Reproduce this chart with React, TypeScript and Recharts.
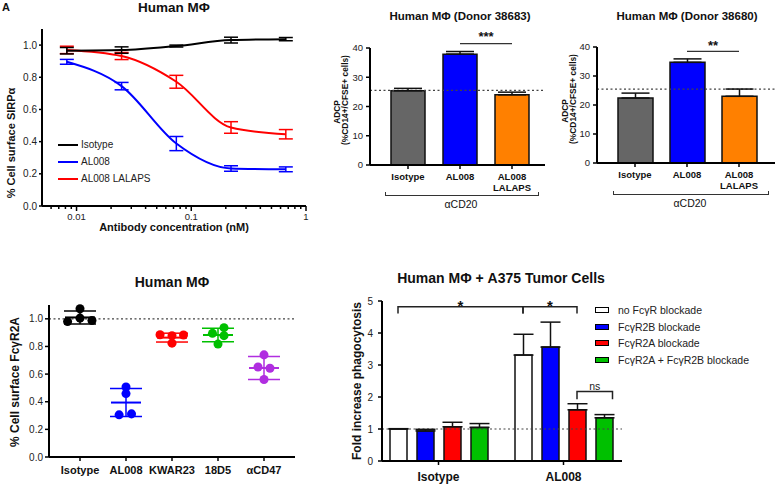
import React from "react";
import {
  LineChart, Line, XAxis, YAxis, ErrorBar, Legend, BarChart, Bar, Cell,
  ReferenceLine, ReferenceDot, ScatterChart, Scatter,
} from "recharts";

const FONT = '"Liberation Sans", Arial, Helvetica, sans-serif';
const BLUE = "#0000ff";
const RED = "#ff0000";
const GREEN = "#00c000";
const ORANGE = "#ff8000";
const GREY = "#666666";
const PURPLE = "#b02ee0";

// SIRPa surface level vs antibody dose (top left)
const concNM = [0.00823, 0.0247, 0.0741, 0.222, 0.667];
const isotypeSirpa = [0.965, 0.969, 0.994, 1.031, 1.037];
const isotypeSirpaSem = [0.02, 0.02, 0.006, 0.018, 0.01];
const al008Sirpa = [0.896, 0.745, 0.388, 0.233, 0.228];
const al008SirpaSem = [0.015, 0.023, 0.044, 0.017, 0.015];
const lalapsSirpa = [0.97, 0.932, 0.772, 0.488, 0.446];
const lalapsSirpaSem = [0.023, 0.022, 0.04, 0.036, 0.029];
const concTicks = [0.006, 0.007, 0.008, 0.009, 0.01, 0.02, 0.03, 0.04, 0.05, 0.06, 0.07, 0.08, 0.09, 0.1, 0.2, 0.3, 0.4, 0.5, 0.6, 0.7, 0.8, 0.9, 1];
const concLabels = [0.01, 0.1, 1];
const fractionTicks = [0, 0.2, 0.4, 0.6, 0.8, 1.0];

// ADCP, two donors (top right)
const adcpGroups = ["Isotype", "AL008", "AL008\nLALAPS"];
const adcpColors = [GREY, BLUE, ORANGE];
const donor38683 = [25.4, 37.9, 24.0];
const donor38683Sem = [0.8, 0.9, 0.9];
const donor38680 = [22.4, 34.7, 23.0];
const donor38680Sem = [1.7, 1.2, 2.5];
const adcpBaseline = 25.5;
const adcpTicks = [0, 10, 20, 30, 40];

// FcgR2A surface level (bottom left)
const fcgrGroups = ["Isotype", "AL008", "KWAR23", "18D5", "αCD47"];
const fcgrColors = ["#000000", BLUE, RED, GREEN, PURPLE];
const fcgrValues = [
  [0.98, 1.073, 1.005, 0.988],
  [0.507, 0.459, 0.305, 0.312],
  [0.885, 0.878, 0.883, 0.824],
  [0.895, 0.936, 0.878, 0.817],
  [0.739, 0.651, 0.642, 0.561],
];
const fcgrJitter = [
  [-0.27, 0, 0, 0.26],
  [0, 0, -0.15, 0.12],
  [-0.26, 0, 0.25, 0],
  [-0.12, 0.13, 0.13, 0],
  [0, -0.13, 0.13, 0],
];
const fcgrMean = [1.01, 0.394, 0.864, 0.883, 0.644];
const fcgrSd = [0.047, 0.101, 0.032, 0.049, 0.083];

// phagocytosis of A375 cells (bottom right)
const tumorGroups = ["Isotype", "AL008"];
const noBlockade = [1.0, 3.31];
const noBlockadeSem = [0.01, 0.65];
const r2bBlockade = [0.94, 3.56];
const r2bBlockadeSem = [0.05, 0.78];
const r2aBlockade = [1.07, 1.6];
const r2aBlockadeSem = [0.14, 0.19];
const bothBlockade = [1.05, 1.35];
const bothBlockadeSem = [0.12, 0.1];
const foldTicks = [0, 1, 2, 3, 4, 5];

const sirpaSeries = [
  { key: "iso", name: "Isotype", color: "#000000", vals: isotypeSirpa, sem: isotypeSirpaSem },
  { key: "al008", name: "AL008", color: BLUE, vals: al008Sirpa, sem: al008SirpaSem },
  { key: "lalaps", name: "AL008 LALAPS", color: RED, vals: lalapsSirpa, sem: lalapsSirpaSem },
];

const sirpaRows = concNM.map((c, i) => {
  const row: any = { conc: c };
  sirpaSeries.forEach((s) => {
    row[s.key] = s.vals[i];
    row[s.key + "Err"] = s.sem[i];
  });
  return row;
});

const tumorSeries = [
  { key: "none", name: "no FcγR blockade", fill: "#ffffff", vals: noBlockade, sem: noBlockadeSem },
  { key: "r2b", name: "FcγR2B blockade", fill: BLUE, vals: r2bBlockade, sem: r2bBlockadeSem },
  { key: "r2a", name: "FcγR2A blockade", fill: RED, vals: r2aBlockade, sem: r2aBlockadeSem },
  { key: "both", name: "FcγR2A + FcγR2B blockade", fill: GREEN, vals: bothBlockade, sem: bothBlockadeSem },
];

const tumorRows = tumorGroups.map((g, i) => {
  const row: any = { group: g };
  tumorSeries.forEach((s) => {
    row[s.key] = s.vals[i];
    row[s.key + "Err"] = [0, s.sem[i]];
  });
  return row;
});

const axisLine = { stroke: "#000", strokeWidth: 2 };
const tickLine = { stroke: "#000", strokeWidth: 1.5 };

function Txt({ x, y, children, size = 12, bold = true, rotate = false }: any) {
  return (
    <div
      style={{
        position: "absolute", left: x, top: y, whiteSpace: "nowrap", lineHeight: 1,
        transform: `translate(-50%,-50%)${rotate ? " rotate(-90deg)" : ""}`,
        fontSize: size, fontWeight: bold ? 700 : 400, color: "#111",
      }}
    >
      {children}
    </div>
  );
}

function ConcTick(props: any) {
  const { x, y, payload } = props;
  const major = concLabels.includes(payload.value);
  return (
    <g transform={`translate(${x},${y})`}>
      <line x1={0} x2={0} y1={0} y2={major ? 5 : 3} stroke="#000" strokeWidth={1.5} />
      {major && (
        <text y={14} textAnchor="middle" fontSize={9.5} fill="#222">
          {payload.value}
        </text>
      )}
    </g>
  );
}

function SirpaLegend() {
  return (
    <div style={{ fontSize: 10, color: "#222" }}>
      {sirpaSeries.map((s) => (
        <div key={s.key} style={{ display: "flex", alignItems: "center", height: 17 }}>
          <span style={{ display: "inline-block", width: 20, height: 2, background: s.color, marginRight: 3 }} />
          {s.name}
        </div>
      ))}
    </div>
  );
}

function TumorLegend() {
  return (
    <div style={{ fontSize: 10.5, color: "#222" }}>
      {tumorSeries.map((s) => (
        <div key={s.key} style={{ display: "flex", alignItems: "center", height: 16.7 }}>
          <span style={{ display: "inline-block", width: 12, height: 4, background: s.fill, border: "1.5px solid #000", marginRight: 9 }} />
          {s.name}
        </div>
      ))}
    </div>
  );
}

function MultiTick(props: any) {
  const { x, y, payload } = props;
  const lines = String(payload.value).split("\n");
  return (
    <text x={x} y={y} textAnchor="middle" fontSize={9.5} fontWeight="bold" fill="#111">
      {lines.map((l, i) => (
        <tspan key={i} x={x} dy={i === 0 ? "0.8em" : "1.15em"}>{l}</tspan>
      ))}
    </text>
  );
}

function SirpaChart() {
  return (
    <LineChart width={320} height={240} data={sirpaRows} margin={{ top: 29, right: 14, bottom: 4, left: 0 }}>
      <XAxis
        dataKey="conc" type="number" scale="log" domain={[0.005, 1]} ticks={concTicks}
        allowDataOverflow interval={0} tickSize={0} tickMargin={0} tickLine={false}
        axisLine={axisLine} height={30} tick={<ConcTick />}
      />
      <YAxis
        domain={[0, 1.1]} ticks={fractionTicks} width={42} axisLine={axisLine} tickLine={tickLine}
        tickSize={3} tickMargin={2} tickFormatter={(v: number) => v.toFixed(1)}
        tick={{ fontSize: 10, fill: "#222" }}
      />
      {[sirpaSeries[2], sirpaSeries[1], sirpaSeries[0]].map((s) => (
        <Line key={s.key} dataKey={s.key} name={s.name} type="monotone" stroke={s.color} strokeWidth={2}
          dot={false} isAnimationActive={false}>
          <ErrorBar dataKey={s.key + "Err"} direction="y" width={7} stroke={s.color} strokeWidth={1.5} />
        </Line>
      ))}
      <Legend layout="horizontal" verticalAlign="middle" align="center"
        wrapperStyle={{ left: 58, top: 136, width: 130 }} content={() => <SirpaLegend />} />
    </LineChart>
  );
}

function AdcpChart({ width, yWidth, top, right, bottom, values, sem, barSize, padding, sigY, sigLabel, sigOffset }: any) {
  const rows = adcpGroups.map((g, i) => ({ name: g, value: values[i], err: [0, sem[i]] }));
  return (
    <BarChart width={width} height={240} data={rows} margin={{ top, right, bottom, left: 0 }}>
      <XAxis dataKey="name" height={30} axisLine={axisLine} tickLine={tickLine} tickSize={4} tickMargin={3}
        padding={padding} interval={0} tick={<MultiTick />} />
      <YAxis domain={[0, 40]} ticks={adcpTicks} width={yWidth} axisLine={axisLine} tickLine={tickLine}
        tickSize={4} tickMargin={3} tick={{ fontSize: 9.5, fill: "#222" }} />
      <ReferenceLine y={adcpBaseline} stroke="#444" strokeDasharray="2 2.5" strokeWidth={1.2} />
      <Bar dataKey="value" barSize={barSize} stroke="#111" strokeWidth={1.5} isAnimationActive={false}>
        {rows.map((r, i) => (
          <Cell key={r.name} fill={adcpColors[i]} />
        ))}
        <ErrorBar dataKey="err" direction="y" width={14} stroke="#111" strokeWidth={1.5} />
      </Bar>
      <ReferenceLine
        segment={[{ x: adcpGroups[1], y: sigY }, { x: adcpGroups[2], y: sigY }]}
        stroke="#333" strokeWidth={1.2} ifOverflow="visible"
        label={{ value: sigLabel, position: "top", offset: sigOffset, fontSize: 13, fontWeight: "bold", fill: "#111" }}
      />
    </BarChart>
  );
}

function FcgrChart() {
  return (
    <ScatterChart width={310} height={244} margin={{ top: 65, right: 15, bottom: 2, left: 0 }}>
      <XAxis dataKey="x" type="number" domain={[-0.674, 4.674]} ticks={[0, 1, 2, 3, 4]} interval={0}
        allowDataOverflow height={25} axisLine={axisLine} tickLine={tickLine} tickSize={4} tickMargin={5}
        tickFormatter={(i: number) => fcgrGroups[i]}
        tick={{ fontSize: 11, fontWeight: "bold", fill: "#111" }} />
      <YAxis dataKey="y" type="number" domain={[0, 1.1]} ticks={fractionTicks} width={49}
        axisLine={axisLine} tickLine={tickLine} tickSize={4} tickMargin={2}
        tickFormatter={(v: number) => v.toFixed(1)} tick={{ fontSize: 10, fill: "#222" }} />
      <ReferenceLine y={1} stroke="#444" strokeDasharray="2 2.5" strokeWidth={1.2} />
      {fcgrGroups.map((g, i) => (
        <Scatter key={g + "m"} data={[{ x: i, y: fcgrMean[i], sd: fcgrSd[i] }]} isAnimationActive={false}
          shape={(p: any) => (
            <line x1={p.cx - 15} x2={p.cx + 15} y1={p.cy} y2={p.cy} stroke={fcgrColors[i]} strokeWidth={2} />
          )}>
          <ErrorBar dataKey="sd" direction="y" width={16} stroke={fcgrColors[i]} strokeWidth={1.5} />
        </Scatter>
      ))}
      {fcgrGroups.map((g, i) => (
        <Scatter key={g} data={fcgrValues[i].map((v, k) => ({ x: i + fcgrJitter[i][k], y: v }))}
          fill={fcgrColors[i]} isAnimationActive={false} />
      ))}
    </ScatterChart>
  );
}

// layout of the grouped bars, also used to place the significance brackets
const D_PLOT_W = 240;
const D_PAD = { left: -6, right: -4 };
const D_BAR = 17;
const D_GAP = 10;
const D_MARGIN = { top: 61, right: 154, bottom: 1, left: 0 };
const D_YAXIS_W = 52;
const D_XAXIS_H = 22;
const dBand = (D_PLOT_W - D_PAD.left - D_PAD.right) / tumorGroups.length;
const barCenter = (g: number, b: number) => D_PAD.left + dBand * (g + 0.5) + (b - 1.5) * (D_BAR + D_GAP);

const tumorBrackets = [
  { key: "s1", x1: barCenter(0, 0), x2: barCenter(1, 0), y: 4.82, legY: 4.61, text: "*" },
  { key: "s2", x1: barCenter(1, 0), x2: barCenter(1, 2), y: 4.82, legY: 4.61, text: "*" },
  { key: "ns", x1: barCenter(1, 2), x2: barCenter(1, 3) + D_BAR / 2, y: 2.17, legY: 1.93, text: "ns" },
];

function TumorChart() {
  return (
    <BarChart width={446} height={244} data={tumorRows} barGap={D_GAP} margin={D_MARGIN}>
      <XAxis dataKey="group" height={D_XAXIS_H} axisLine={axisLine} tickLine={tickLine} tickSize={4} tickMargin={7.5}
        padding={D_PAD} interval={0} tick={{ fontSize: 12, fontWeight: "bold", fill: "#111" }} />
      <YAxis domain={[0, 5]} ticks={foldTicks} width={D_YAXIS_W} axisLine={axisLine} tickLine={tickLine}
        tickSize={4} tickMargin={5} tick={{ fontSize: 10, fill: "#222" }} />
      <ReferenceLine y={1} stroke="#444" strokeDasharray="2 2.5" strokeWidth={1.2} />
      {tumorSeries.map((s) => (
        <Bar key={s.key} dataKey={s.key} name={s.name} fill={s.fill} barSize={D_BAR} stroke="#111"
          strokeWidth={1.5} isAnimationActive={false}>
          <ErrorBar dataKey={s.key + "Err"} direction="y" width={10} stroke="#111" strokeWidth={1.5} />
        </Bar>
      ))}
      <Legend layout="horizontal" verticalAlign="middle" align="center"
        wrapperStyle={{ left: 265, top: 61.5, width: 180 }} content={() => <TumorLegend />} />
    </BarChart>
  );
}

// transparent chart laid over the bar plot, with a numeric x scale for the brackets
function TumorBrackets() {
  return (
    <LineChart width={446} height={244}
      margin={{ top: D_MARGIN.top, right: D_MARGIN.right, bottom: D_MARGIN.bottom + D_XAXIS_H, left: D_MARGIN.left + D_YAXIS_W }}>
      <XAxis dataKey="x" type="number" domain={[0, D_PLOT_W]} hide allowDataOverflow />
      <YAxis dataKey="y" type="number" domain={[0, 5]} hide allowDataOverflow />
      {tumorBrackets.map((b) => (
        <Line key={b.key} dataKey="y" type="linear" stroke="#222" strokeWidth={1.5} dot={false}
          isAnimationActive={false}
          data={[{ x: b.x1, y: b.legY }, { x: b.x1, y: b.y }, { x: b.x2, y: b.y }, { x: b.x2, y: b.legY }]} />
      ))}
      {tumorBrackets.map((b) => (
        <ReferenceDot key={b.key + "t"} x={(b.x1 + b.x2) / 2} y={b.y} r={0} fill="none" stroke="none"
          ifOverflow="visible"
          label={b.text === "*"
            ? { value: "*", position: "top", offset: -4, fontSize: 15, fontWeight: "bold", fill: "#111" }
            : { value: "ns", position: "top", offset: 2, fontSize: 10.5, fill: "#222" }} />
      ))}
    </LineChart>
  );
}

function Bracket({ x1, x2, y, text }: any) {
  return (
    <>
      <div style={{ position: "absolute", left: x1, top: y - 3.5, width: x2 - x1, height: 3,
        borderLeft: "1px solid #333", borderRight: "1px solid #333", borderBottom: "1px solid #333" }} />
      <Txt x={(x1 + x2) / 2} y={y + 8.5} size={10.5} bold={false}>{text}</Txt>
    </>
  );
}

export default function App() {
  return (
    <div style={{ position: "absolute", left: 0, top: 0, width: 776, height: 484, background: "#fff",
      fontFamily: FONT, overflow: "hidden" }}>
      <div style={{ position: "absolute", left: 0, top: 0 }}><SirpaChart /></div>
      <div style={{ position: "absolute", left: 320, top: 0 }}>
        <AdcpChart width={240} yWidth={50} top={48} right={15} bottom={45} values={donor38683} sem={donor38683Sem}
          barSize={34} padding={{ left: 12, right: 7 }} sigY={41.5} sigLabel="***" sigOffset={2.5} />
      </div>
      <div style={{ position: "absolute", left: 560, top: 0 }}>
        <AdcpChart width={216} yWidth={37} top={47} right={1} bottom={47} values={donor38680} sem={donor38680Sem}
          barSize={35} padding={{ left: 12, right: 10 }} sigY={38.5} sigLabel="**" sigOffset={1.2} />
      </div>
      <div style={{ position: "absolute", left: 0, top: 240 }}><FcgrChart /></div>
      <div style={{ position: "absolute", left: 330, top: 240 }}><TumorChart /></div>
      <div style={{ position: "absolute", left: 330, top: 240, pointerEvents: "none" }}><TumorBrackets /></div>

      <Txt x={6} y={7} size={11}>A</Txt>
      <Txt x={174} y={8} size={13.5}>Human MΦ</Txt>
      <Txt x={11} y={143} size={11} rotate>% Cell surface SIRPα</Txt>
      <Txt x={174} y={227} size={11}>Antibody concentration (nM)</Txt>

      <Txt x={460} y={17} size={11.5}>Human MΦ (Donor 38683)</Txt>
      <Txt x={337} y={112} size={8.4} rotate>ADCP</Txt>
      <Txt x={345} y={100} size={8.4} rotate>(%CD14+/CFSE+ cells)</Txt>
      <Bracket x1={385} x2={537} y={195} text="αCD20" />

      <Txt x={687} y={17} size={11.5}>Human MΦ (Donor 38680)</Txt>
      <Txt x={565} y={111} size={8.4} rotate>ADCP</Txt>
      <Txt x={573} y={99} size={8.4} rotate>(%CD14+/CFSE+ cells)</Txt>
      <Bracket x1={613} x2={767} y={194} text="αCD20" />

      <Txt x={172} y={282} size={14}>Human MΦ</Txt>
      <Txt x={15} y={382} size={12} rotate>% Cell surface FcγR2A</Txt>

      <Txt x={501} y={278} size={14}>Human MΦ + A375 Tumor Cells</Txt>
      <Txt x={357} y={381} size={12} rotate>Fold increase phagocytosis</Txt>
    </div>
  );
}
